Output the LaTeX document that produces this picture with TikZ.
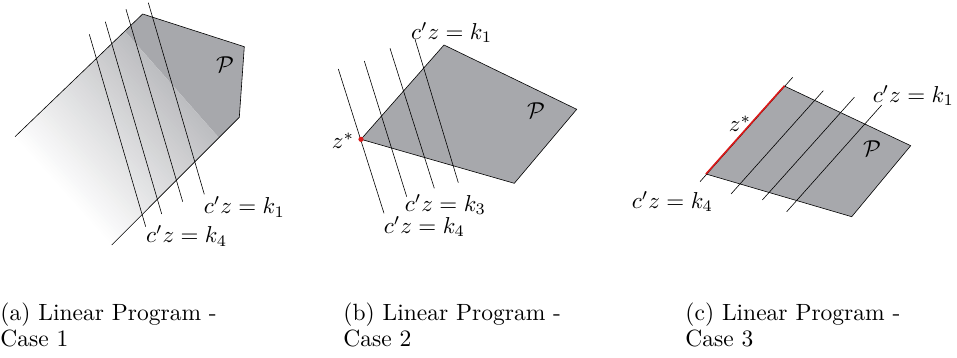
\documentclass[tikz,border=0pt]{standalone}
\usetikzlibrary{calc}
\definecolor{pgray}{RGB}{167,168,172}
\definecolor{zred}{RGB}{220,25,25}
\begin{document}
\begin{tikzpicture}[x=1pt,y=-1pt,
  edge/.style={line width=0.6pt, draw=black},
  level/.style={line width=0.6pt, draw=black},
  lbl/.style={scale=2.3, inner sep=0pt},
  captext/.style={scale=2.35, font=\fontsize{10}{11.1}\selectfont, align=left, anchor=north west, inner sep=0pt}]
\useasboundingbox (0,0) rectangle (957,358);

% ---------- panel (a) ----------
\coordinate (aT) at (142.7,14);
\coordinate (aR1) at (244.3,46.7);
\coordinate (aR2) at (239.3,117.3);
\coordinate (aE) at (111.7,245);
\coordinate (aL) at (15,136.7);
\coordinate (aA) at ($(aT)!0.14!(aL)$);
\coordinate (aB) at ($(aR2)!0.16!(aE)$);
\fill[pgray] (aA) -- (aT) -- (aR1) -- (aR2) -- (aB) -- cycle;
\foreach \i in {0,...,59} {
  \pgfmathsetmacro{\ta}{\i/60}
  \pgfmathsetmacro{\tb}{min(1,(\i+1.6)/60)}
  \pgfmathsetmacro{\cc}{75*(1-\ta)}
  \fill[pgray!\cc!white] ($(aA)!\ta!(aL)$) -- ($(aB)!\ta!(aE)$) -- ($(aB)!\tb!(aE)$) -- ($(aA)!\tb!(aL)$) -- cycle;
}
\draw[edge] (aL) -- (aT) -- (aR1) -- (aR2) -- (aE);
\coordinate (a1s) at (89.3,34.3);  \coordinate (a1e) at (145.7,226.7);
\coordinate (a2s) at (105.3,21.7); \coordinate (a2e) at (161.7,214);
\coordinate (a3s) at (126,9.3);    \coordinate (a3e) at (182.7,201.7);
\coordinate (a4s) at (148.3,2.7);  \coordinate (a4e) at (204.3,194.3);
\foreach \k in {1,2,3,4} \draw[level] (a\k s) -- (a\k e);
\node[lbl] (aP) at (225,65) {$\mathcal{P}$};
\node[lbl] (ak1) at (244.5,207) {$c'z=k_1$};
\node[lbl] (ak4) at (186.7,236) {$c'z=k_4$};

% ---------- panel (b) ----------
\coordinate (bT) at (444,45);
\coordinate (bR) at (576.7,109.3);
\coordinate (bB) at (514.3,183.3);
\coordinate (bZ) at (361,139.3);
\filldraw[fill=pgray, edge, line join=miter] (bT) -- (bR) -- (bB) -- (bZ) -- cycle;
\coordinate (b1s) at (338.3,69);  \coordinate (b1e) at (384,213.3);
\coordinate (b2s) at (364.3,61);  \coordinate (b2e) at (406.7,196.7);
\coordinate (b3s) at (390,48.3);  \coordinate (b3e) at (434.3,188.3);
\coordinate (b4s) at (415,39.3);  \coordinate (b4e) at (458.3,182.7);
\foreach \k in {1,2,3,4} \draw[level] (b\k s) -- (b\k e);
\fill[zred] (bZ) circle (2.6);
\node[lbl] (bP) at (536,111) {$\mathcal{P}$};
\node[lbl] (bz) at (343,141) {$z^*$};
\node[lbl] (bk1) at (451.7,32.5) {$c'z=k_1$};
\node[lbl] (bk3) at (445.5,204.5) {$c'z=k_3$};
\node[lbl] (bk4) at (424.5,226.5) {$c'z=k_4$};

% ---------- panel (c) ----------
\coordinate (cT) at (784.3,86);
\coordinate (cR) at (910.7,145.7);
\coordinate (cB) at (851.7,216.7);
\coordinate (cL) at (706,174);
\filldraw[fill=pgray, edge, line join=miter] (cT) -- (cR) -- (cB) -- (cL) -- cycle;
\coordinate (c1s) at (700,181.7);   \coordinate (c1e) at (792.7,77.3);
\coordinate (c2s) at (731,194);     \coordinate (c2e) at (823.3,90.7);
\coordinate (c3s) at (762.3,200);   \coordinate (c3e) at (854.3,97.3);
\coordinate (c4s) at (786.7,211.7); \coordinate (c4e) at (881.7,105);
\foreach \k in {1,2,3,4} \draw[level] (c\k s) -- (c\k e);
\draw[zred, line width=1.6pt] (cL) -- (cT);
\node[lbl] (cP) at (872,148.5) {$\mathcal{P}$};
\node[lbl] (cz) at (740,123.5) {$z^*$};
\node[lbl] (ck1) at (913.3,95.5) {$c'z=k_1$};
\node[lbl] (ck4) at (672.5,201.5) {$c'z=k_4$};

% ---------- captions ----------
\node[captext] (capa) at (0,302.5) {(a) Linear Program -\\Case 1};
\node[captext] (capb) at (343,302.5) {(b) Linear Program -\\Case 2};
\node[captext] (capc) at (685,302.5) {(c) Linear Program -\\Case 3};
\end{tikzpicture}
\end{document}
